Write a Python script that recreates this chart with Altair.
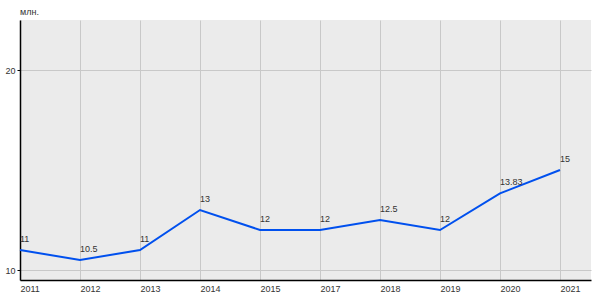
import altair as alt
import pandas as pd

years = ["2011", "2012", "2013", "2014", "2015", "2017", "2018", "2019", "2020", "2021"]
values = [11, 10.5, 11, 13, 12, 12, 12.5, 12, 13.83, 15]
labels = ["11", "10.5", "11", "13", "12", "12", "12.5", "12", "13.83", "15"]

df = pd.DataFrame({"idx": list(range(len(years))), "year": years, "value": values, "label": labels})

FONT = "Liberation Sans"
year_arr = "[" + ",".join("'" + y_ + "'" for y_ in years) + "]"

x = alt.X(
    "idx:Q",
    scale=alt.Scale(domain=[0, 571 / 60], nice=False, zero=False),
    axis=alt.Axis(
        title=None, values=list(range(len(years))), labelExpr=year_arr + "[datum.value]",
        labelAngle=0, labelAlign="left", labelBaseline="top",
        labelPadding=4, ticks=False, domain=True, domainColor="black",
        domainWidth=1.5, grid=True, gridColor="#c8c8c8", gridWidth=1,
        labelFont=FONT, labelFontSize=9, labelColor="#333333", labelFlush=False,
    ),
)
y = alt.Y(
    "value:Q",
    scale=alt.Scale(domain=[9.5, 22.5], nice=False, zero=False),
    axis=alt.Axis(
        title=None, values=[10, 20], ticks=True, tickSize=3, tickColor="black",
        labelPadding=2, domain=True, domainColor="black", domainWidth=1.5,
        grid=True, gridColor="#c8c8c8", gridWidth=1,
        labelFont=FONT, labelFontSize=9, labelColor="#333333",
    ),
)

line = alt.Chart(df).mark_line(color="#0050ee", strokeWidth=2).encode(x=x, y=y)
text = alt.Chart(df).mark_text(
    align="left", baseline="middle", dy=-11, dx=0, font=FONT, fontSize=9, color="#333333"
).encode(x=x, y=y, text="label:N")

chart = (
    alt.layer(line, text)
    .properties(
        width=571,
        height=260,
        padding={"left": 20, "top": 20, "right": 9, "bottom": 20},
        autosize=alt.AutoSizeParams(type="none"),
        title=alt.TitleParams(
            "млн.", anchor="start", frame="group", fontSize=9, fontWeight="normal",
            font=FONT, color="#333333", offset=3,
        ),
        background="white",
    )
    .configure_view(fill="#ebebeb", stroke=None)
)

chart.save("out.html", embed_options={"renderer": "svg", "actions": False})
